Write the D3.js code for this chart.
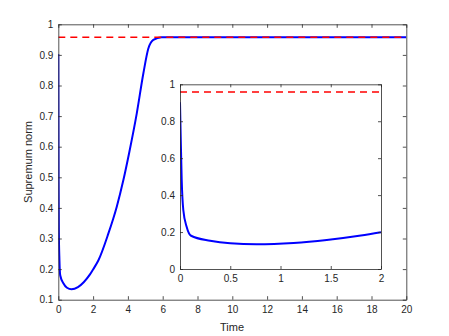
<!DOCTYPE html>
<html>
<head>
<meta charset="utf-8">
<script src="https://cdn.jsdelivr.net/npm/d3@7"></script>
<style>
body { margin: 0; background: #fff; }
text { font-family: "Liberation Sans", Arial, sans-serif; fill: #262626; }
</style>
</head>
<body>
<div id="chart"></div>
<script>
var width = 449;
var height = 336;

// data
var time = [0, 0.007, 0.017, 0.033, 0.066, 0.11, 0.3, 0.5, 0.76, 1.13, 1.46, 1.8, 2.0,
            2.3, 2.87, 3.36, 3.74, 4.08, 4.51, 4.89, 5.17, 5.46, 5.94, 20];
var supNorm = [0.903, 0.716, 0.482, 0.319, 0.229, 0.18, 0.153, 0.139, 0.134, 0.141, 0.157, 0.181, 0.199,
               0.228, 0.315, 0.404, 0.491, 0.582, 0.709, 0.84, 0.92, 0.949, 0.958, 0.958];
var bound = 0.958;
var mainXTicks = [0, 2, 4, 6, 8, 10, 12, 14, 16, 18, 20];
var mainYTicks = [0.1, 0.2, 0.3, 0.4, 0.5, 0.6, 0.7, 0.8, 0.9, 1];
var insetXTicks = [0, 0.5, 1, 1.5, 2];
var insetYTicks = [0, 0.2, 0.4, 0.6, 0.8, 1];

var pts = time.map(function(t, i) { return [t, supNorm[i]]; });

var svg = d3.select("#chart").append("svg")
    .attr("width", width)
    .attr("height", height);

svg.append("rect").attr("width", width).attr("height", height).attr("fill", "#fff");

function drawAxes(g, x, y, xt, yt, xfmt, yfmt, tick) {
    var x0 = x.range()[0], x1 = x.range()[1];
    var y0 = y.range()[0], y1 = y.range()[1];
    g.append("g").attr("transform", "translate(0," + y0 + ")")
        .call(d3.axisBottom(x).tickValues(xt).tickFormat(xfmt).tickSizeInner(-tick).tickSizeOuter(0).tickPadding(6));
    g.append("g").attr("transform", "translate(0," + y1 + ")")
        .call(d3.axisTop(x).tickValues(xt).tickFormat("").tickSizeInner(-tick).tickSizeOuter(0));
    g.append("g").attr("transform", "translate(" + x0 + ",0)")
        .call(d3.axisLeft(y).tickValues(yt).tickFormat(yfmt).tickSizeInner(-tick).tickSizeOuter(0).tickPadding(5));
    g.append("g").attr("transform", "translate(" + x1 + ",0)")
        .call(d3.axisRight(y).tickValues(yt).tickFormat("").tickSizeInner(-tick).tickSizeOuter(0));
    g.selectAll(".domain").attr("stroke", "#262626").attr("stroke-width", 0.8);
    g.selectAll(".tick line").attr("stroke", "#262626").attr("stroke-width", 0.8);
    g.selectAll(".tick text").attr("font-size", 10).attr("fill", "#262626")
        .attr("font-family", "Liberation Sans, Arial, sans-serif");
}

function drawLines(g, x, y, data, clipId) {
    var line = d3.line().x(function(d) { return x(d[0]); }).y(function(d) { return y(d[1]); })
        .curve(d3.curveMonotoneX);
    var cp = g.append("clipPath").attr("id", clipId).append("rect")
        .attr("x", x.range()[0]).attr("y", y.range()[1])
        .attr("width", x.range()[1] - x.range()[0]).attr("height", y.range()[0] - y.range()[1]);
    var lg = g.append("g").attr("clip-path", "url(#" + clipId + ")");
    lg.append("path").datum(data).attr("d", line)
        .attr("fill", "none").attr("stroke", "#0000ff").attr("stroke-width", 2);
    lg.append("line")
        .attr("x1", x.range()[0]).attr("x2", x.range()[1])
        .attr("y1", y(bound)).attr("y2", y(bound))
        .attr("stroke", "#ff0000").attr("stroke-width", 1.5).attr("stroke-dasharray", "7,5");
}

// main axes
var x = d3.scaleLinear().domain([0, 20]).range([58.3, 406.3]);
var y = d3.scaleLinear().domain([0.1, 1]).range([299.7, 24.3]);
var main = svg.append("g");
drawLines(main, x, y, pts, "clipMain");
drawAxes(main, x, y, mainXTicks, mainYTicks, d3.format("d"), function(d) { return d === 1 ? "1" : d3.format(".1f")(d); }, 3.5);

main.append("text").attr("x", 232).attr("y", 331).attr("text-anchor", "middle")
    .attr("font-size", 11).text("Time");
main.append("text").attr("transform", "translate(32,162) rotate(-90)").attr("text-anchor", "middle")
    .attr("font-size", 11).text("Supremum norm");

// inset axes
var xi = d3.scaleLinear().domain([0, 2]).range([180, 381]);
var yi = d3.scaleLinear().domain([0, 1]).range([269, 84.3]);
var inset = svg.append("g");
inset.append("rect").attr("x", 180).attr("y", 84.3).attr("width", 201).attr("height", 184.7).attr("fill", "#fff");
drawLines(inset, xi, yi, pts.filter(function(d) { return d[0] <= 2; }), "clipInset");
drawAxes(inset, xi, yi, insetXTicks, insetYTicks, function(d) { return String(d); }, function(d) { return String(d); }, 3);
</script>
</body>
</html>
